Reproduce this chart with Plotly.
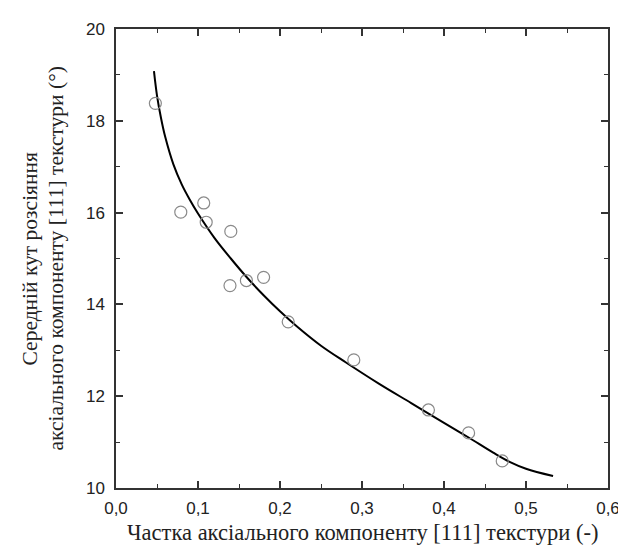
import plotly.graph_objects as go

# measured points
fraction = [0.048, 0.079, 0.107, 0.110, 0.140, 0.139, 0.159, 0.180, 0.210, 0.290, 0.381, 0.430, 0.471]
angle = [18.38, 16.01, 16.21, 15.79, 15.59, 14.41, 14.52, 14.59, 13.62, 12.79, 11.70, 11.20, 10.59]

# fitted curve
curve_x = [0.0463, 0.05, 0.055, 0.06, 0.07, 0.08, 0.09, 0.10, 0.12, 0.14, 0.16, 0.18,
           0.20, 0.22, 0.25, 0.28, 0.32, 0.36, 0.40, 0.43, 0.46, 0.48, 0.50, 0.533]
curve_y = [19.08, 18.55, 18.05, 17.65, 17.05, 16.62, 16.28, 15.98, 15.45, 15.00, 14.58, 14.20,
           13.85, 13.53, 13.10, 12.74, 12.28, 11.85, 11.42, 11.10, 10.77, 10.57, 10.42, 10.26]

x_title = "Частка аксіального компоненту [111] текстури (-)"
y_title_1 = "Середній кут розсіяння"
y_title_2 = "аксіального компоненту [111] текстури (°)"

fig = go.Figure()
fig.add_trace(go.Scatter(x=curve_x, y=curve_y, mode="lines",
                         line=dict(color="black", width=2, shape="spline", smoothing=1.0),
                         showlegend=False, hoverinfo="skip"))
fig.add_trace(go.Scatter(x=fraction, y=angle, mode="markers",
                         marker=dict(symbol="circle-open", size=12, color="#8a8a8a",
                                     line=dict(width=1.2, color="#8a8a8a")),
                         showlegend=False))

axis_common = dict(showline=True, linecolor="#333333", linewidth=1.5, mirror="allticks",
                   ticks="inside", ticklen=7, tickwidth=1.5, tickcolor="#333333",
                   showgrid=False, zeroline=False,
                   tickfont=dict(family="Liberation Sans, Arial", size=17, color="#222222"))

fig.update_xaxes(range=[0, 0.6], dtick=0.1, tick0=0, tickformat=".1f", ticklabelstandoff=4,
                 minor=dict(ticks="inside", ticklen=4, tickwidth=1.2, tickcolor="#333333", dtick=0.05),
                 **axis_common)
fig.update_yaxes(range=[10, 20], dtick=2, tick0=10, ticklabelstandoff=6,
                 minor=dict(ticks="inside", ticklen=4, tickwidth=1.2, tickcolor="#333333", dtick=1),
                 **axis_common)

serif_x = dict(family="Liberation Serif, Times New Roman", size=22.5, color="#222222")
serif_y = dict(family="Liberation Serif, Times New Roman", size=21.5, color="#222222")
fig.add_annotation(text=x_title, xref="paper", yref="paper", x=0.5, y=0,
                   yshift=-44, yanchor="middle", showarrow=False, font=serif_x)
fig.add_annotation(text=y_title_1, xref="paper", yref="paper", x=0, y=0.5,
                   xshift=-87, xanchor="center", textangle=-90, showarrow=False, font=serif_y)
fig.add_annotation(text=y_title_2, xref="paper", yref="paper", x=0, y=0.5,
                   xshift=-61, xanchor="center", textangle=-90, showarrow=False, font=serif_y)

fig.update_layout(width=626, height=546, separators=", ",
                  margin=dict(l=108, r=26, t=14, b=66),
                  plot_bgcolor="white", paper_bgcolor="white")

fig.write_html("out.html")
